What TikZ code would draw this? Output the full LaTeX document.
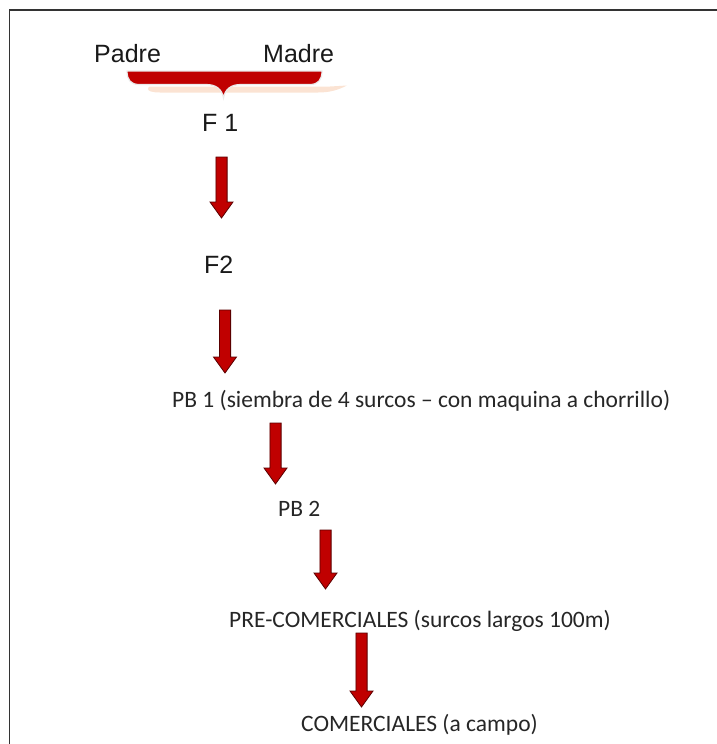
\documentclass[tikz,border=0pt]{standalone}
\usepackage{fontspec}
\setmainfont{Liberation Sans}
\newfontfamily\calib{Carlito}
\usetikzlibrary{calc}
\definecolor{arrred}{HTML}{C00000}
\definecolor{arredge}{HTML}{5A0000}
\definecolor{peach}{HTML}{FBE3D3}
\tikzset{
  x=1pt, y=-1pt,
  arialtxt/.style={inner sep=0pt, anchor=base west, font=\fontsize{25}{28}\selectfont, text=black!90},
  calibtxt/.style={inner sep=0pt, anchor=base west, font=\calib\fontsize{23.5}{27}\selectfont, text=black!85},
  blockarrow/.style={fill=arrred, draw=arredge, line width=0.8pt, line join=miter,
    to path={let \p1=(\tikztostart), \p2=(\tikztotarget) in
      (\x1-5.6pt,\y1) -- (\x1+5.6pt,\y1) -- (\x1+5.6pt,\y2+16pt) -- (\x1+11.5pt,\y2+16pt)
      -- (\x1,\y2) -- (\x1-11.5pt,\y2+16pt) -- (\x1-5.6pt,\y2+16pt) -- cycle}},
  framestyle/.style={line width=1.6pt, draw=black!80}
}
\begin{document}
\begin{tikzpicture}
\useasboundingbox (0,0) rectangle (717,744);
% frame
\draw[framestyle] (9.5,760) -- (9.5,10) -- (730,10);
% brace shadow
\fill[peach] (150,86.5) -- (330,86.5) -- (347,85.5) .. controls (338,90) and (330,92.5) .. (318,92.5)
  -- (160,92.5) .. controls (152,92.5) and (148,91) .. (148,89) .. controls (148,87.5) and (149,86.5) .. (150,86.5) -- cycle;
% brace
\filldraw[fill=arrred, draw=black!8, line width=1.2pt]
  (127,71) -- (322,71) .. controls (322,80) and (318,84.5) .. (310,84.5) -- (241,84.5)
  .. controls (231,84.5) and (225,89) .. (223.5,98) .. controls (222,89) and (216,84.5) .. (206,84.5)
  -- (139,84.5) .. controls (131,84.5) and (127,80) .. (127,71) -- cycle;
% texts
\node[arialtxt] (padre) at (94,62) {Padre};
\node[arialtxt] (madre) at (263,62) {Madre};
\node[arialtxt] (f1) at (202,131.5) {F 1};
\node[arialtxt] (f2) at (204,273.5) {F2};
\node[calibtxt] (pb1) at (172,407.5) {PB 1 (siembra de 4 surcos – con maquina a chorrillo)};
\node[calibtxt] (pb2) at (278,516.5) {PB 2};
\node[calibtxt] (pre) at (229,627) {PRE-COMERCIALES (surcos largos 100m)};
\node[calibtxt] (com) at (301,731) {COMERCIALES (a campo)};
% arrow coordinates
\coordinate (a1s) at (221.5,157); \coordinate (a1e) at (221.5,218);
\coordinate (a2s) at (225,310);   \coordinate (a2e) at (225,373);
\coordinate (a3s) at (275.5,423); \coordinate (a3e) at (275.5,484);
\coordinate (a4s) at (325.5,530); \coordinate (a4e) at (325.5,589);
\coordinate (a5s) at (361.5,633); \coordinate (a5e) at (361.5,707);
\draw[blockarrow] (a1s) to (a1e);
\draw[blockarrow] (a2s) to (a2e);
\draw[blockarrow] (a3s) to (a3e);
\draw[blockarrow] (a4s) to (a4e);
\draw[blockarrow] (a5s) to (a5e);
\end{tikzpicture}
\end{document}
